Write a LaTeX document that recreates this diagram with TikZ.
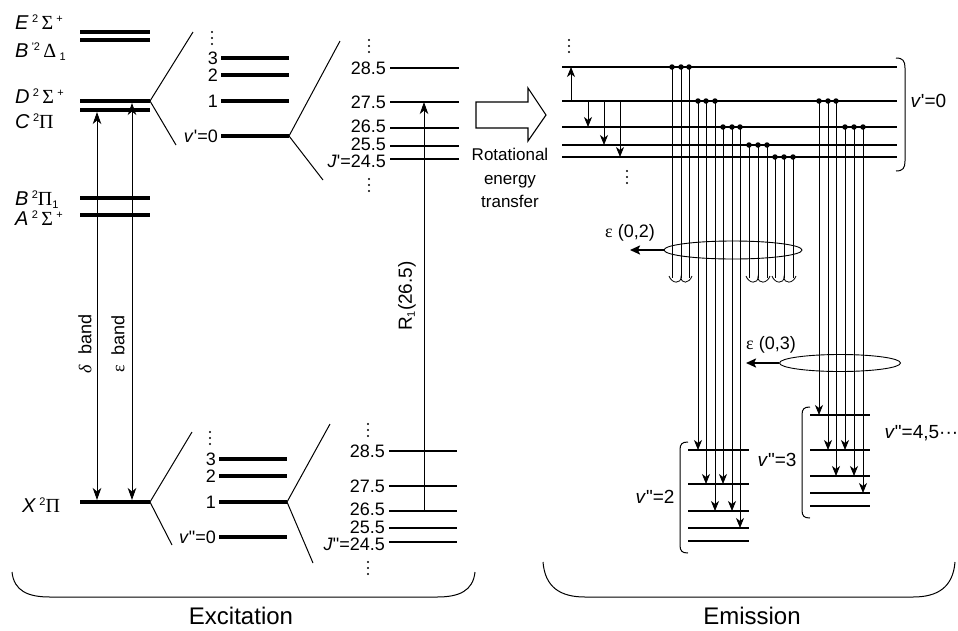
\documentclass[tikz,border=0pt]{standalone}
\usepackage{fontspec}
\newfontfamily\lsans{Liberation Sans}
\newfontfamily\lserif{Liberation Serif}
\usetikzlibrary{arrows.meta,shapes.geometric}
\newcommand{\spr}[1]{\raisebox{6.5pt}{\fontsize{11}{11}\selectfont #1}}
\newcommand{\sbr}[1]{\raisebox{-3pt}{\fontsize{11}{11}\selectfont #1}}
\newcommand{\vdts}[2]{\fill (#1,#2) circle (1.1pt) (#1,{#2+6}) circle (1.1pt) (#1,{#2+12}) circle (1.1pt);}
\begin{document}
\begin{tikzpicture}[x=1pt,y=-1pt,
 f17/.style={font=\lsans\fontsize{17}{23.5}\selectfont},
 f18/.style={font=\lsans\fontsize{18}{20}\selectfont},
 fj/.style={font=\lsans\fontsize{18}{20}\selectfont},
 f19/.style={font=\lsans\fontsize{19}{21}\selectfont},
 f20/.style={font=\lsans\fontsize{20}{22}\selectfont},
 f24/.style={font=\lsans\fontsize{24}{26}\selectfont},
 lab/.style={inner sep=0pt},
 elev/.style={line width=3.8pt},
 vlev/.style={line width=3.4pt},
 jlev/.style={line width=2.2pt},
 emlev/.style={line width=1.8pt},
 fanl/.style={line width=1pt},
 thinl/.style={line width=0.8pt},
 earr/.style={thinl,-{Stealth[length=10pt,width=8pt,inset=3pt]}},
 xarr/.style={line width=0.9pt,-{Stealth[length=12pt,width=8.5pt,inset=3.5pt]}},
 xdarr/.style={line width=0.9pt,{Stealth[length=12pt,width=8.5pt,inset=3.5pt]}-{Stealth[length=12pt,width=8.5pt,inset=3.5pt]}},
 fatarr/.style={line width=2.2pt,-{Stealth[length=10pt,width=9pt,inset=2pt]}},
 emdot/.style={circle,fill,inner sep=0pt,minimum size=5.5pt},
 ell/.style={draw,ellipse,line width=0.9pt,inner sep=0pt},
 brace/.style={line width=1pt}
]
\useasboundingbox (0,0) rectangle (958,630);

% ---------- electronic states
\foreach \n/\y in {E/32,Bp/40,D/101,C/110,B/198,A/215,X/502}{
  \coordinate (\n-l) at (80,\y);
  \coordinate (\n-r) at (150,\y);
  \draw[elev] (\n-l) -- (\n-r);
}
\node[f20,lab,anchor=base west] (tE) at (15,29) {\textit{E}\,\spr{2}\,{\lserif Σ}\,\spr{+}};
\node[f20,lab,anchor=base west] (tBp) at (15,57) {\textit{B}\,\spr{'2}\,{\lserif Δ}\,\sbr{1}};
\node[f20,lab,anchor=base west] (tD) at (15,103) {\textit{D}\,\spr{2}\,{\lserif Σ}\,\spr{+}};
\node[f20,lab,anchor=base west] (tC) at (15,128) {\textit{C}\,\spr{2}{\lserif Π}};
\node[f20,lab,anchor=base west] (tB) at (15,205) {\textit{B}\,\spr{2}{\lserif Π}\sbr{1}};
\node[f20,lab,anchor=base west] (tA) at (15,225) {\textit{A}\,\spr{2}\,{\lserif Σ}\,\spr{+}};
\node[f20,lab,anchor=base west] (tX) at (22,512) {\textit{X}\,\spr{2}{\lserif Π}};

% excitation bands
\coordinate (dX) at (97,500); \coordinate (dC) at (97,112);
\coordinate (eX) at (132,500); \coordinate (eD) at (132,103);
\draw[xdarr] (dX) -- (dC);
\draw[xdarr] (eX) -- (eD);
\node[f18,rotate=90] (tdelta) at (85,344) {{\lserif\itshape δ}\ \ band};
\node[f18,rotate=90] (teps) at (118,344) {{\lserif ε}\ \ band};

% ---------- upper vibrational levels
\coordinate (fu1) at (193,32); \coordinate (fu2) at (176,145);
\draw[fanl] (fu1) -- (D-r) -- (fu2);
\foreach \n/\y/\t in {3/58/3, 2/75/2, 1/101/1, 0/136/{\textit{v}'=0}}{
  \coordinate (vu\n-l) at (221,\y); \coordinate (vu\n-r) at (289,\y);
  \draw[vlev] (vu\n-l) -- (vu\n-r);
  \node[f18,lab,anchor=east] (tvu\n) at (218,\y) {\t};
}
\vdts{212}{32}
\coordinate (fu3) at (340,41); \coordinate (fu4) at (323,180);
\draw[fanl] (fu3) -- (vu0-r) -- (fu4);

% upper rotational levels
\foreach \n/\y/\ty/\t in {a/68/68/28.5, b/102/102/27.5, c/128/126.5/26.5, d/146/144.5/25.5, e/159/161/{\textit{J}'=24.5}}{
  \coordinate (ju\n-l) at (390,\y); \coordinate (ju\n-r) at (459,\y);
  \draw[jlev] (ju\n-l) -- (ju\n-r);
  \node[fj,lab,anchor=east] (tju\n) at (386,\ty) {\t};
}
\vdts{369}{40}
\vdts{369}{179}

% ---------- lower vibrational levels
\coordinate (fl1) at (192,432); \coordinate (fl2) at (172,545);
\draw[fanl] (fl1) -- (X-r) -- (fl2);
\foreach \n/\y/\t in {3/459/3, 2/476/2, 1/502/1, 0/537/{\textit{v}"=0}}{
  \coordinate (vl\n-l) at (219,\y); \coordinate (vl\n-r) at (287,\y);
  \draw[vlev] (vl\n-l) -- (vl\n-r);
  \node[f18,lab,anchor=east] (tvl\n) at (216,\y) {\t};
}
\vdts{210}{432}
\coordinate (fl3) at (330,424); \coordinate (fl4) at (313,563);
\draw[fanl] (fl3) -- (vl1-r) -- (fl4);

% lower rotational levels
\foreach \n/\y/\ty/\t in {a/451/451/28.5, b/486/486/27.5, c/511/509.5/26.5, d/528/527/25.5, e/542/544/{\textit{J}"=24.5}}{
  \coordinate (jl\n-l) at (389,\y); \coordinate (jl\n-r) at (457,\y);
  \draw[jlev] (jl\n-l) -- (jl\n-r);
  \node[fj,lab,anchor=east] (tjl\n) at (385,\ty) {\t};
}
\vdts{368}{424}
\vdts{368}{562}

% R1(26.5) excitation
\coordinate (r1a) at (424,511); \coordinate (r1b) at (424,102);
\draw[xarr] (r1a) -- (r1b);
\node[f19,rotate=90] (tr1) at (407,296) {R\sbr{1}(26.5)};

% ---------- rotational energy transfer block arrow
\draw[line width=1.1pt] (476,102) -- (528,102) -- (528,88) -- (546,115) -- (528,141) -- (528,128) -- (476,128) -- cycle;
\node[f17,align=center] (ret) at (510,178) {Rotational\\energy\\transfer};

% ---------- emission upper levels
\foreach \n/\y in {a/67,b/101,c/127,d/145,e/157}{
  \coordinate (eu\n-l) at (562,\y); \coordinate (eu\n-r) at (897,\y);
  \draw[emlev] (eu\n-l) -- (eu\n-r);
}
\vdts{569}{40}
\vdts{627}{171}
\draw[earr] (571,101) -- (571,67);
\draw[earr] (588,101) -- (588,127);
\draw[earr] (604,101) -- (604,145);
\draw[earr] (620,101) -- (620,157);

% truncated groups
\foreach \x in {672,681,689}{ \draw[thinl] (\x,67) -- (\x,278); \node[emdot] at (\x,67) {}; }
\foreach \x in {749,758,767}{ \draw[thinl] (\x,145) -- (\x,278); \node[emdot] at (\x,145) {}; }
\foreach \x in {775,784,793}{ \draw[thinl] (\x,157) -- (\x,278); \node[emdot] at (\x,157) {}; }
\foreach \a/\m/\b in {672/681/689, 749/758/767, 775/784/793}{
  \draw[thinl] ({\a-3},276) .. controls (\a,284) and (\m,284) .. (\m,277) .. controls (\m,284) and (\b,284) .. ({\b+3},276);
}
% groups to v''=2
\foreach \x/\yb in {698/450,706/484,715/511}{ \draw[earr] (\x,101) -- (\x,\yb); \node[emdot] at (\x,101) {}; }
\foreach \x/\yb in {723/484,732/511,740/528}{ \draw[earr] (\x,127) -- (\x,\yb); \node[emdot] at (\x,127) {}; }
% groups to v''=3
\foreach \x/\yb in {819/415,828/450,836/476}{ \draw[earr] (\x,101) -- (\x,\yb); \node[emdot] at (\x,101) {}; }
\foreach \x/\yb in {845/450,854/476,863/493}{ \draw[earr] (\x,127) -- (\x,\yb); \node[emdot] at (\x,127) {}; }

% lower emission levels
\foreach \y in {450,484,511,528,541}{ \draw[emlev] (688,\y) -- (749,\y); }
\foreach \y in {415,450,476,493,506}{ \draw[emlev] (810,\y) -- (870,\y); }

% small braces
\draw[brace] (896,58) .. controls (903,58) and (905,61) .. (905,68) -- (905,161) .. controls (905,168) and (903,171) .. (896,171);
\draw[brace] (688,442) .. controls (682,442) and (680,444) .. (680,450) -- (680,545) .. controls (680,551) and (682,553) .. (688,553);
\draw[brace] (810,407) .. controls (804,407) and (802,409) .. (802,415) -- (802,510) .. controls (802,516) and (804,518) .. (810,518);
\node[f19,anchor=west] (tv0) at (907,101) {\textit{v}'=0};
\node[f19] (tv2) at (655,497) {\textit{v}"=2};
\node[f19] (tv3) at (777,460) {\textit{v}"=3};
\node[f19,anchor=west] (tv45) at (881,433) {\textit{v}"=4,5···};

% ellipses
\node[ell,minimum width=138pt,minimum height=18pt] (e02) at (733,250) {};
\coordinate (e02t) at (630,250);
\draw[fatarr] (e02.west) -- (e02t);
\node[f18] (te02) at (630,233) {{\lserif ε}\ (0,2)};
\node[ell,minimum width=121pt,minimum height=17pt] (e03) at (840,363) {};
\coordinate (e03t) at (746,363);
\draw[fatarr] (e03.west) -- (e03t);
\node[f18] (te03) at (771,345) {{\lserif ε}\ (0,3)};

% ---------- big braces
\draw[brace] (12,572) .. controls (14,591) and (28,597) .. (50,597) -- (437,597) .. controls (459,597) and (473,591) .. (475,572);
\draw[brace] (543,562) .. controls (545,587) and (560,597) .. (585,597) -- (913,597) .. controls (938,597) and (953,587) .. (955,562);
\node[f24,anchor=base] (texc) at (241,624) {Excitation};
\node[f24,anchor=base] (temi) at (752,624) {Emission};
\end{tikzpicture}
\end{document}
